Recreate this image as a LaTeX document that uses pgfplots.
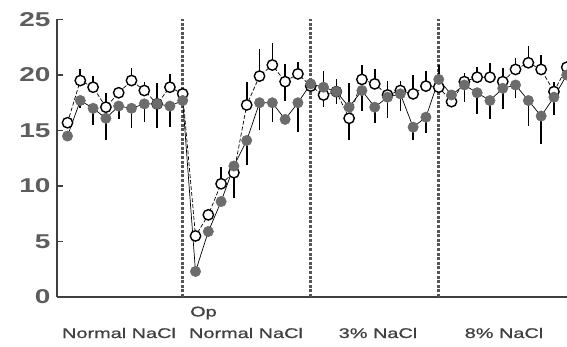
\documentclass[border=0pt]{standalone}
\usepackage{pgfplots}
\usepackage{pgfplotstable}
\pgfplotsset{compat=1.18}
\usepackage{fontspec}
\setmainfont{Liberation Sans}
\newfontfamily\labfont[FakeStretch=1.42, FakeBold=0.8]{Liberation Sans}
\newfontfamily\tickfont[FakeStretch=1.4]{Liberation Sans}
\definecolor{markgray}{HTML}{6C6C6C}
\definecolor{txtgray}{HTML}{404040}
\definecolor{dashgray}{HTML}{555555}

\pgfplotstableread{
x y ep em
0 15.7 0 0
1 19.5 1.0 0
2 18.9 1.0 0
3 17.1 1.3 0
4 18.4 0.5 0
5 19.5 1.1 0
6 18.6 0.8 0
7 17.4 1.9 0
8 18.9 1.2 0
9 18.3 0 0
10 5.5 0 0
11 7.4 0 0
12 10.2 1.5 0
13 11.2 0 2.3
14 17.3 2.1 0
15 19.9 2.4 0
16 20.9 2.0 0
17 19.4 1.6 1.7
18 20.1 1.1 0
19 19.0 0 0
20 18.2 2.2 1.1
21 18.5 0 0
22 16.1 0 2.0
23 19.6 1.3 0
24 19.2 1.3 0
25 18.2 1.3 0
26 18.6 0.9 0
27 18.3 1.7 0
28 19.0 1.4 0
29 18.9 0 0
30 17.6 0 0.5
31 19.4 0.8 0
32 19.8 0.9 0
33 19.8 1.3 0
34 19.4 1.2 0
35 20.5 1.0 0
36 21.1 1.5 0
37 20.5 1.3 0
38 18.5 0.9 0
39 20.7 0 0
}\opendata

\pgfplotstableread{
x y ep em
0 14.5 0 0
1 17.7 0 0.7
2 17.0 0 1.5
3 16.1 0 2.0
4 17.2 0 1.2
5 17.0 0 1.8
6 17.4 0 1.6
7 17.4 0 2.2
8 17.2 0 1.9
9 17.7 0 0
10 2.3 0 0.4
11 5.9 0 0.5
12 8.6 0 0
13 11.8 0 0
14 14.1 0 2.2
15 17.5 0 2.5
16 17.5 0 1.7
17 16.0 0 0
18 17.5 0 2.6
19 19.2 0 0
20 18.9 0 0
21 18.5 1.1 1.1
22 17.1 2.2 0
23 18.6 0 1.8
24 17.1 0 1.4
25 18.0 0 1.9
26 18.3 0 1.5
27 15.3 0 1.2
28 16.2 0 1.4
29 19.6 1.3 0
30 18.2 0 0
31 19.1 0 1.5
32 18.4 0 1.9
33 17.7 0 1.7
34 18.8 0 1.9
35 19.1 0 1.2
36 17.7 0 2.3
37 16.3 0 2.5
38 18.0 0 1.6
39 20.0 0 0
}\filleddata

\begin{document}
\begin{tikzpicture}
\useasboundingbox (-57pt,-50pt) rectangle (510pt,297pt);
\begin{axis}[
  scale only axis,
  width=510pt, height=277.5pt,
  xmin=-0.82, xmax=39.02,
  ymin=0, ymax=25,
  axis x line=bottom, axis y line=left,
  axis line style={-, line width=2pt, color=txtgray},
  xtick=\empty,
  ytick={0,5,10,15,20,25},
  tick align=inside,
  major tick length=6pt,
  tick style={line width=1.5pt, color=txtgray},
  /pgf/number format/assume math mode=true,
  yticklabel style={font=\tickfont\bfseries\fontsize{20}{20}\selectfont, text=txtgray!85, xshift=-3pt},
  clip=true,
]
% vertical dashed separators
\addplot[dashgray, line width=3pt, dash pattern=on 3pt off 1.6pt] coordinates {(9,0) (9,25)};
\addplot[dashgray, line width=3pt, dash pattern=on 3pt off 1.6pt] coordinates {(19,0) (19,25)};
\addplot[dashgray, line width=3pt, dash pattern=on 3pt off 1.6pt] coordinates {(29,0) (29,25)};

% open circles
\addplot[black, line width=0.7pt, dash pattern=on 4pt off 2pt,
  mark=*, mark size=5.2pt, mark options={solid, fill=white, draw=black, line width=1.4pt},
  error bars/.cd, y dir=both, y explicit,
  error bar style={solid, line width=1.6pt, black}, error mark=none]
  table[x=x, y=y, y error plus=ep, y error minus=em] {\opendata};

% filled circles
\addplot[black, line width=0.7pt,
  mark=*, mark size=5.2pt, mark options={solid, fill=markgray, draw=markgray, line width=0.5pt},
  error bars/.cd, y dir=both, y explicit,
  error bar style={solid, line width=1.6pt, black}, error mark=none]
  table[x=x, y=y, y error plus=ep, y error minus=em] {\filleddata};
\end{axis}
% category labels
\begin{scope}[every node/.style={text=txtgray, font=\labfont\fontsize{14}{14}\selectfont, inner sep=0pt}]
\node at (62pt,-36pt) {Normal NaCl};
\node[anchor=west] at (133pt,-16pt) {Op};
\node at (189pt,-36pt) {Normal NaCl};
\node at (321pt,-36pt) {3\% NaCl};
\node at (447pt,-36pt) {8\% NaCl};
\end{scope}
\end{tikzpicture}
\end{document}
